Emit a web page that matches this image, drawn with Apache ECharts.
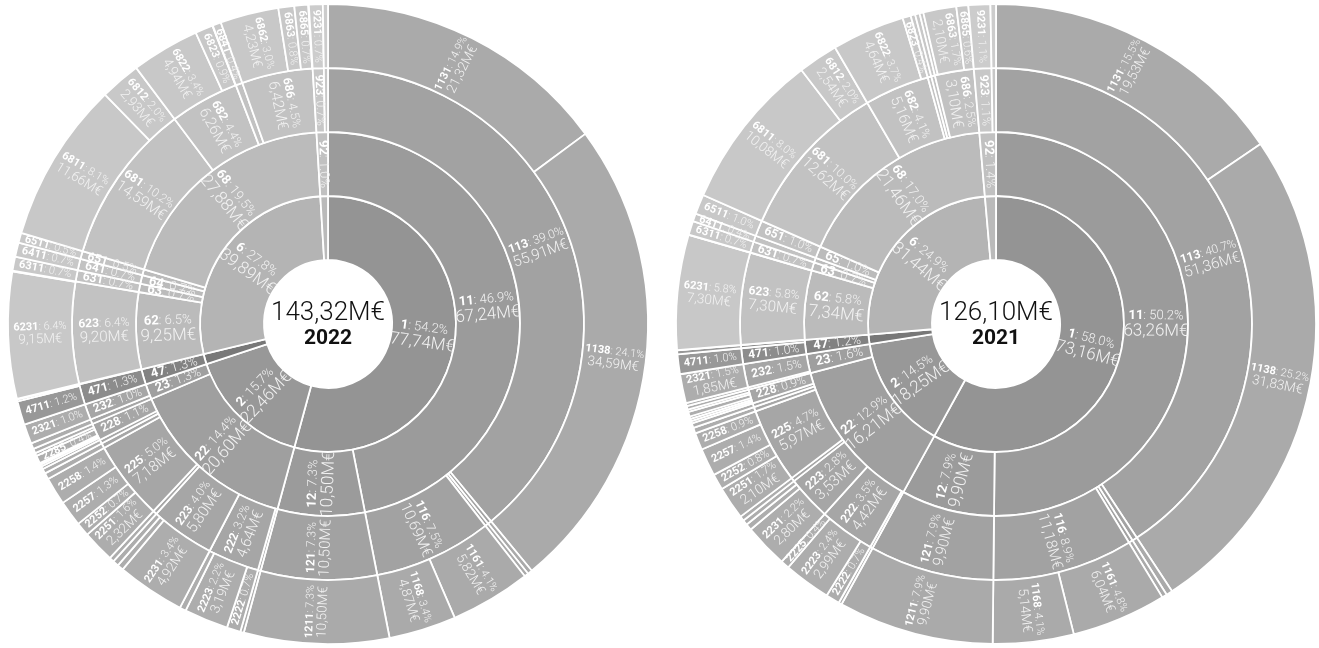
<!DOCTYPE html>
<html>
<head>
<meta charset="utf-8">
<script src="https://cdn.jsdelivr.net/npm/echarts@6/dist/echarts.min.js"></script>
<style>
html, body { margin: 0; padding: 0; background: #fff; }
#main { width: 1319px; height: 648px; }
</style>
</head>
<body>
<div id="main"></div>
<script>
// leaf codes (4 digits) and values in M€, parents are built from the prefixes
var codes2022 = ['1131', '1138', '1141', '1151', '1161', '1168', '1211',
  '2211', '2222', '2223', '2229', '2231', '2232', '2239', '2241', '2251', '2252', '2257', '2258',
  '2261', '2271', '2281', '2282', '2284', '2285', '2286', '2288', '2311', '2321',
  '4711', '4712',
  '6211', '6231', '6239', '6311', '6411', '6511', '6811', '6812', '6822', '6823', '6824', '6841',
  '6862', '6863', '6865', '6869',
  '9231', '9241'];
var values2022 = [21.32, 34.59, 0.34, 0.30, 5.82, 4.87, 10.50,
  0.25, 1.00, 3.19, 0.45, 4.92, 0.45, 0.43, 0.35, 2.32, 1.00, 1.86, 2.00,
  0.45, 0.35, 0.20, 0.15, 0.12, 0.57, 0.22, 0.32, 0.43, 1.43,
  1.72, 0.14,
  0.05, 9.15, 0.05, 1.02, 1.02, 0.72, 11.66, 2.93, 4.94, 1.29, 0.03, 0.61,
  4.23, 1.15, 1.00, 0.04,
  1.00, 0.37];

var codes2021 = ['1131', '1138', '1141', '1151', '1161', '1168', '1211',
  '2211', '2222', '2223', '2225', '2231', '2232', '2239', '2241', '2251', '2252', '2257', '2258',
  '2261', '2271', '2281', '2282', '2284', '2285', '2286', '2288', '2311', '2321',
  '4711', '4791',
  '6211', '6231', '6291', '6311', '6411', '6511', '6811', '6812', '6822', '6823', '6841', '6851',
  '6862', '6863', '6865',
  '9231', '9241'];
var values2021 = [19.53, 31.83, 0.40, 0.32, 6.04, 5.14, 9.90,
  0.20, 0.88, 2.99, 0.55, 2.80, 0.40, 0.33, 0.30, 2.10, 1.01, 1.77, 1.09,
  0.36, 0.30, 0.15, 0.15, 0.15, 0.30, 0.15, 0.23, 0.19, 1.85,
  1.26, 0.25,
  0.02, 7.30, 0.02, 0.88, 0.50, 1.26, 10.08, 2.54, 4.64, 0.52, 0.29, 0.29,
  0.24, 2.10, 0.76,
  1.39, 0.35];

var years = ['2022', '2021'];

// grey shades per top-level group, one per ring
var greys = {
  '1': ['#949494', '#9b9b9b', '#a2a2a2', '#aaaaaa'],
  '2': ['#989898', '#9f9f9f', '#a6a6a6', '#adadad'],
  '4': ['#787878', '#828282', '#8c8c8c', '#989898'],
  '6': ['#b4b4b4', '#bbbbbb', '#c2c2c2', '#c8c8c8'],
  '9': ['#bababa', '#c1c1c1', '#c7c7c7', '#cccccc']
};

var R0 = 64, RW = 64;
var FONT = 'Roboto';

var buildTree = function(codes, values) {
  var roots = [];
  var lookup = {};
  for (var i = 0; i < codes.length; ++i) {
    var code = codes[i];
    var list = roots;
    for (var d = 1; d <= 4; ++d) {
      var key = code.slice(0, d);
      if (!lookup[key]) {
        lookup[key] = {
          name: key,
          children: [],
          itemStyle: { color: greys[code[0]][d - 1] }
        };
        list.push(lookup[key]);
      }
      if (d === 4) {
        lookup[key].value = values[i];
        delete lookup[key].children;
      } else {
        list = lookup[key].children;
      }
    }
  }
  return roots;
};

var sum = function(arr) {
  var s = 0;
  for (var i = 0; i < arr.length; ++i) s += arr[i];
  return s;
};

var money = function(v) {
  return v.toFixed(2).replace('.', ',') + 'M€';
};

var makeFormatter = function(total) {
  return function(p) {
    var depth = p.treePathInfo.length - 1;
    var pct = p.value / total * 100;
    var mid = R0 + (depth - 0.5) * RW;
    var arc = pct / 100 * 2 * Math.PI * mid;
    // too thin for a label
    if (depth === 1 && pct < 3) return ' ';
    if (arc < 7) return ' ';
    var s = '{a|' + p.name + '}{b|: ' + pct.toFixed(1) + '%}';
    if (arc >= 26) s += '\n{c|' + money(p.value) + '}';
    return s;
  };
};

var richFor = function(f1, f2) {
  return {
    a: { fontFamily: FONT, fontSize: f1, fontWeight: 'bold', color: '#ffffff' },
    b: { fontFamily: FONT, fontSize: f1, fontWeight: 300, color: '#f2f2f2' },
    c: { fontFamily: FONT, fontSize: f2, fontWeight: 300, color: '#f2f2f2', lineHeight: f2 + 1 }
  };
};

var centers = [[328, 324], [996, 324]];
var allCodes = [codes2022, codes2021];
var allValues = [values2022, values2021];

var series = [];
var graphic = [];
for (var k = 0; k < 2; ++k) {
  var total = sum(allValues[k]);
  series.push({
    type: 'sunburst',
    center: centers[k],
    radius: [R0, R0 + 4 * RW],
    nodeClick: false,
    sort: function(a, b) { return a.dataIndex - b.dataIndex; },
    data: buildTree(allCodes[k], allValues[k]),
    itemStyle: { borderColor: '#ffffff', borderWidth: 1.8 },
    label: {
      rotate: 'radial',
      formatter: makeFormatter(total)
    },
    emphasis: { focus: 'none' },
    levels: [
      {},
      { label: { rich: richFor(13, 17) } },
      { label: { rich: richFor(13, 17) } },
      { label: { rich: richFor(12, 15) } },
      { label: { rich: richFor(11, 13.5) } }
    ]
  });
  graphic.push({
    type: 'text',
    x: centers[k][0],
    y: centers[k][1] - 11,
    style: {
      text: money(total),
      font: '300 26px Roboto',
      fill: '#111111',
      align: 'center',
      verticalAlign: 'middle'
    }
  });
  graphic.push({
    type: 'text',
    x: centers[k][0],
    y: centers[k][1] + 15,
    style: {
      text: years[k],
      font: 'bold 21px Roboto',
      fill: '#111111',
      align: 'center',
      verticalAlign: 'middle'
    }
  });
}

var myChart = echarts.init(document.getElementById('main'));
myChart.setOption({
  animation: false,
  series: series,
  graphic: graphic
});
</script>
</body>
</html>
